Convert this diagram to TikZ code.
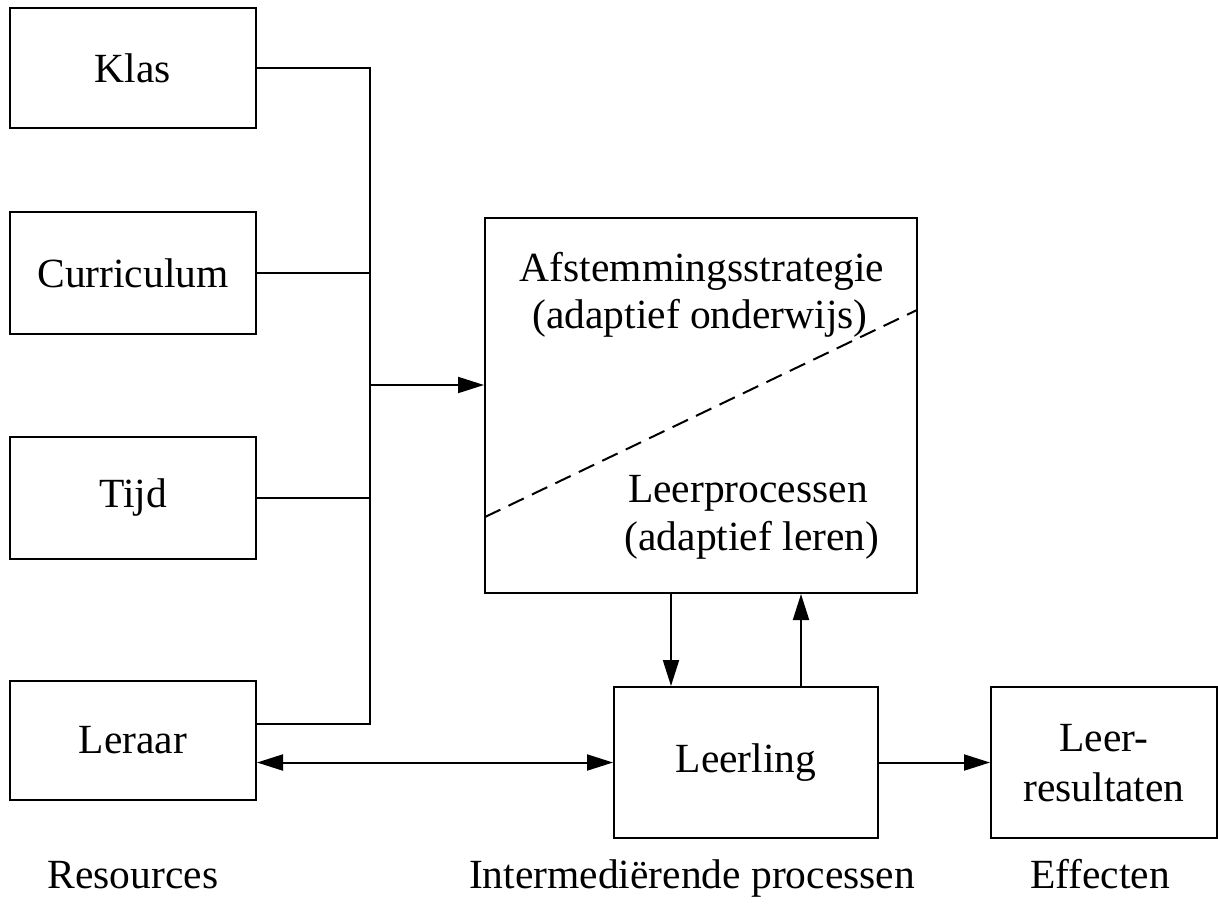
\documentclass[tikz,border=0pt]{standalone}
\usepackage{fontspec}
\setmainfont{Liberation Serif}
\usetikzlibrary{arrows.meta}
\begin{document}
\begin{tikzpicture}[x=1pt,y=-1pt,line width=2pt,
  font=\fontsize{41.5}{50}\selectfont,
  box/.style={draw,inner sep=0pt,align=center},
  lbl/.style={inner sep=0pt,anchor=base},
  arr/.style={-{Triangle[length=26pt,width=16pt]}},
  darr/.style={{Triangle[length=26pt,width=16pt]}-{Triangle[length=26pt,width=16pt]}}]
\useasboundingbox (0,0) rectangle (1218,916);
\node[box,minimum width=246pt,minimum height=120pt] (klas) at (133,68) {Klas};
\node[box,minimum width=246pt,minimum height=122pt] (cur) at (133,273) {Curriculum};
\node[box,minimum width=246pt,minimum height=122pt] (tijd) at (133,498) {Tijd};
\node[box,minimum width=246pt,minimum height=119pt] (leraar) at (133,740.5) {Leraar};
\node[box,minimum width=432pt,minimum height=375pt] (big) at (701,405.5) {};
\node[box,minimum width=264pt,minimum height=151pt] (leerling) at (746,762.5) {Leerling};
\node[box,minimum width=226pt,minimum height=151pt,text depth=0pt] (res) at (1104,762.5) {Leer-\\resultaten};
\node[lbl] (t1) at (702,281) {Afstemmingsstrategie};
\node[lbl] (t2) at (700,328) {(adaptief onderwijs)};
\node[lbl] (t3) at (748,502) {Leerprocessen};
\node[lbl] (t4) at (752,550) {(adaptief leren)};
\node[lbl] (r) at (133,888) {Resources};
\node[lbl] (ip) at (692,888) {Intermediërende processen};
\node[lbl] (ef) at (1100,888) {Effecten};
\coordinate (jL) at (370,724);
\coordinate (jA) at (370,385);
\coordinate (d1) at (485,517);
\coordinate (d2) at (917,310);
\coordinate (xd) at (671,0);
\coordinate (xu) at (801,0);
\draw (klas.east) -| (jL) -- (jL -| leraar.east);
\draw (cur.east) -- (cur.east -| jL);
\draw (tijd.east) -- (tijd.east -| jL);
\draw[arr] (jA) -- (jA -| big.west);
\draw[arr] (xd |- big.south) -- (xd |- leerling.north);
\draw[arr] (xu |- leerling.north) -- (xu |- big.south);
\draw[darr] (leerling.west -| leraar.east) -- (leerling.west);
\draw[arr] (leerling.east) -- (res.west);
\draw[dash pattern=on 17pt off 9pt] (d1) -- (d2);
\end{tikzpicture}
\end{document}
